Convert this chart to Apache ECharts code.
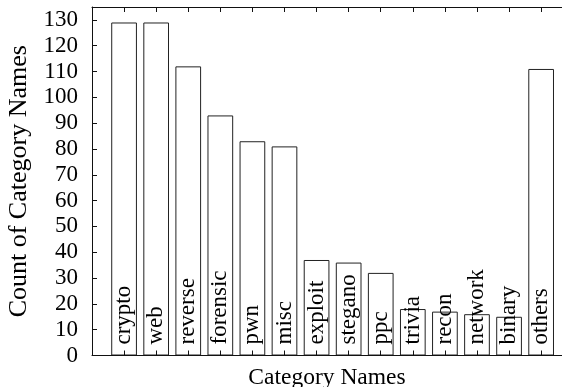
<!DOCTYPE html>
<html>
<head>
<meta charset="utf-8">
<script src="https://cdn.jsdelivr.net/npm/echarts@6/dist/echarts.min.js"></script>
<style>
  html, body { margin: 0; padding: 0; background: #fff; }
  #chart { width: 562px; height: 387px; }
</style>
</head>
<body>
<div id="chart"></div>
<script>
// Category counts
const categories = ['crypto', 'web', 'reverse', 'forensic', 'pwn', 'misc', 'exploit',
  'stegano', 'ppc', 'trivia', 'recon', 'network', 'binary', 'others'];
const counts = [129, 129, 112, 93, 83, 81, 37, 36, 32, 18, 17, 16, 15, 111];
const yTickValues = [0, 10, 20, 30, 40, 50, 60, 70, 80, 90, 100, 110, 120, 130];

const FONT = "'Liberation Serif', 'Times New Roman', serif";
const INK = '#111';
const catPositions = categories.map((c, i) => i);

const chart = echarts.init(document.getElementById('chart'), null, { renderer: 'canvas' });

const xCommon = {
  type: 'value',
  min: -1,
  max: 13.65,
  interval: 1,
  splitLine: { show: false },
  axisLine: { show: true, onZero: false, lineStyle: { color: INK, width: 1 } },
  axisTick: { show: true, inside: true, length: 5, customValues: catPositions,
    lineStyle: { color: INK, width: 1 } },
  z: 5
};

chart.setOption({
  animation: false,
  backgroundColor: '#fff',
  textStyle: { fontFamily: FONT, color: '#000' },
  grid: { left: 92, right: 0, top: 7, bottom: 31.5, containLabel: false, outerBoundsMode: 'none' },
  xAxis: [
    Object.assign({}, xCommon, {
      position: 'bottom',
      axisLabel: { show: false },
      name: 'Category Names',
      nameLocation: 'middle',
      nameGap: 10,
      nameTextStyle: { fontFamily: FONT, fontSize: 23.5, color: '#000' }
    }),
    Object.assign({}, xCommon, {
      position: 'top',
      axisLabel: { show: false }
    })
  ],
  yAxis: {
    type: 'value',
    min: 0,
    max: 135,
    interval: 10,
    splitLine: { show: false },
    axisLine: { show: true, onZero: false, lineStyle: { color: INK, width: 1 } },
    axisTick: { show: true, inside: true, length: 5, customValues: yTickValues,
      lineStyle: { color: INK, width: 1 } },
    axisLabel: {
      customValues: yTickValues,
      margin: 14,
      fontFamily: FONT,
      fontSize: 23,
      color: '#000'
    },
    name: 'Count of Category Names',
    nameLocation: 'middle',
    nameGap: 60,
    nameTextStyle: { fontFamily: FONT, fontSize: 26, color: '#000' },
    z: 5
  },
  series: [{
    type: 'bar',
    xAxisIndex: 0,
    barWidth: 25.7,
    z: 1,
    itemStyle: { color: '#fff', borderColor: '#222', borderWidth: 1 },
    label: {
      show: true,
      position: 'insideBottom',
      distance: 11,
      rotate: 90,
      align: 'left',
      verticalAlign: 'middle',
      fontFamily: FONT,
      fontSize: 23,
      color: '#000',
      formatter: p => categories[p.dataIndex]
    },
    data: categories.map((c, i) => [i, counts[i]])
  }]
});
</script>
</body>
</html>
